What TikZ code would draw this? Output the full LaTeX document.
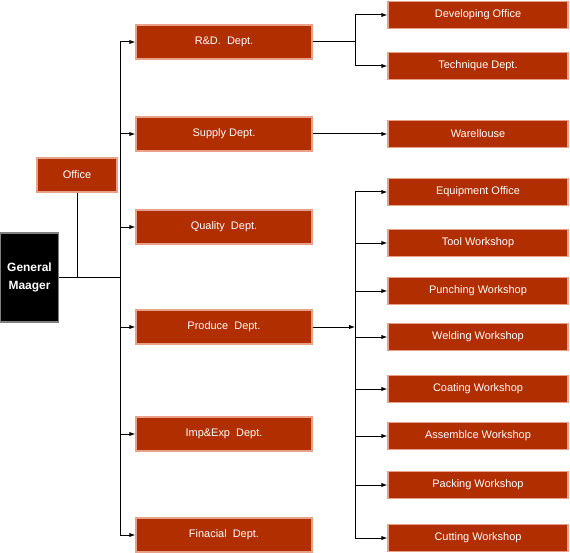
\documentclass[tikz,border=0pt]{standalone}
\usepackage{fontspec}
\setmainfont{Liberation Sans}
\usetikzlibrary{positioning,arrows.meta}

\definecolor{deptred}{RGB}{176,46,0}
\definecolor{deptedge}{RGB}{232,160,136}

\tikzset{
  dept/.style={draw=deptedge, fill=deptred, line width=1.5bp, text=white, inner sep=0pt,
    minimum width=176bp, minimum height=34bp, font=\fontsize{11}{13}\selectfont},
  unit/.style={dept, minimum width=180bp, minimum height=27bp},
  link/.style={line width=1bp},
}

\begin{document}
\begin{tikzpicture}[x=1bp, y=-1bp, >={Latex[length=6bp,width=4.5bp]}]
  \useasboundingbox (0,0) rectangle (570,553);

  \node[draw=gray, fill=black, line width=1.5bp, text=white, align=center, inner sep=0pt,
    minimum width=58bp, minimum height=89bp, font=\fontsize{12}{18}\bfseries] (gm) at (29.5,277.5) {General\\Maager};
  \node[dept, minimum width=80bp, minimum height=34bp] (office) at (77,175) {Office};

  \node[dept] (rd) at (224,42) {R\&D.\ \ Dept.};
  \node[dept] (sup) at (224,134) {Supply Dept.};
  \node[dept] (qua) at (224,227) {Quality\ \ Dept.};
  \node[dept] (prod) at (224,327) {Produce\ \ Dept.};
  \node[dept] (imp) at (224,434) {Imp\&Exp\ \ Dept.};
  \node[dept] (fin) at (224,535) {Finacial\ \ Dept.};

  \node[unit] (dev) at (478,15) {Developing Office};
  \node[unit] (tech) at (478,66) {Technique Dept.};
  \node[unit] (ware) at (478,134) {Warellouse};
  \node[unit] (equip) at (478,192) {Equipment Office};
  \node[unit] (tool) at (478,243) {Tool Workshop};
  \node[unit] (punch) at (478,291) {Punching Workshop};
  \node[unit] (weld) at (478,337) {Welding Workshop};
  \node[unit] (coat) at (478,389) {Coating Workshop};
  \node[unit] (asm) at (478,436) {Assemblce Workshop};
  \node[unit] (pack) at (478,485) {Packing Workshop};
  \node[unit] (cut) at (478,538) {Cutting Workshop};

  \coordinate (bus) at (120,0);
  \coordinate (rbus) at (355,0);

  % general manager to departments
  \draw[link] (gm.east) -- (bus |- gm.east);
  \draw[link] (office.south) -- (office.south |- gm.east);
  \draw[link] (bus |- rd) -- (bus |- fin);
  \foreach \d in {rd,sup,qua,prod,imp,fin}
    \draw[link,->] (bus |- \d) -- (\d.west);

  % R&D
  \draw[link] (rd.east) -- (rbus |- rd);
  \draw[link] (rbus |- dev) -- (rbus |- tech);
  \draw[link,->] (rbus |- dev) -- (dev.west);
  \draw[link,->] (rbus |- tech) -- (tech.west);

  % supply
  \draw[link,->] (sup.east) -- (ware.west);

  % produce
  \draw[link,->] (prod.east) -- (rbus |- prod);
  \draw[link] (rbus |- equip) -- (rbus |- cut);
  \foreach \w in {equip,tool,punch,weld,coat,asm,pack,cut}
    \draw[link,->] (rbus |- \w) -- (\w.west);
\end{tikzpicture}
\end{document}
